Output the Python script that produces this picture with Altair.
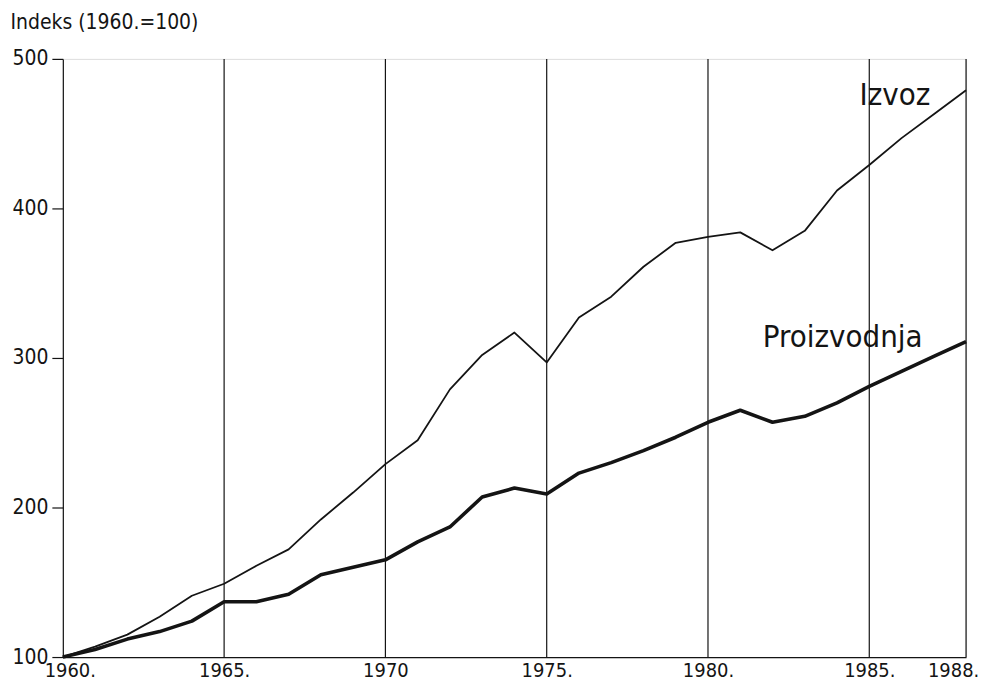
import altair as alt
import pandas as pd

years = list(range(1960, 1989))
izvoz = [100, 107, 115, 127, 141, 149, 161, 172, 192, 210, 229, 245, 279, 302, 317,
         297, 327, 341, 361, 377, 381, 384, 372, 385, 412, 429, 447, 463, 479]
proizvodnja = [100, 105, 112, 117, 124, 137, 137, 142, 155, 160, 165, 177, 187, 207, 213,
               209, 223, 230, 238, 247, 257, 265, 257, 261, 270, 281, 291, 301, 311]

tick_years = [1960, 1965, 1970, 1975, 1980, 1985, 1988]
tick_labels = ["1960.", "1965.", "1970", "1975.", "1980.", "1985.", "1988."]
grid_years = [1965, 1970, 1975, 1980, 1985, 1988]
y_ticks = [100, 200, 300, 400, 500]

label_names = ["Izvoz", "Proizvodnja"]
label_x = [1984.7, 1981.7]
label_y = [475, 313]

FONT = "'DejaVu Sans Condensed', 'DejaVu Sans', sans-serif"
INK = "#141414"

df = pd.DataFrame({
    "year": years * 2,
    "value": izvoz + proizvodnja,
    "series": ["Izvoz"] * len(years) + ["Proizvodnja"] * len(years),
})
grid_df = pd.DataFrame({"year": grid_years})
lab_df = pd.DataFrame({"name": label_names, "x": label_x, "y": label_y})

label_expr = " : ".join(
    [f"datum.value == {y} ? '{l}'" for y, l in zip(tick_years, tick_labels)] + ["''"]
)

xscale = alt.Scale(domain=[1960, 1988], nice=False, zero=False)
yscale = alt.Scale(domain=[100, 500], nice=False, zero=False)

base_x = alt.X("year:Q", scale=xscale,
               axis=alt.Axis(values=tick_years, labelExpr=label_expr, grid=False,
                             ticks=False, domainColor=INK, domainWidth=1.2,
                             labelFont=FONT, labelFontSize=20, labelColor=INK,
                             labelPadding=4, title=None, labelFlush=False,
                             labelOffset={"condition": [
                                 {"test": "datum.value == 1960", "value": 7},
                                 {"test": "datum.value == 1988", "value": -13}],
                                 "value": 0}))
base_y = alt.Y("value:Q", scale=yscale,
               axis=alt.Axis(values=y_ticks, grid=False, tickSize=11, tickColor=INK,
                             tickWidth=1.2, domainColor=INK, domainWidth=1.2,
                             labelFont=FONT, labelFontSize=21, labelColor=INK,
                             labelPadding=4,
                             title="Indeks (1960.=100)", titleAngle=0,
                             titleAlign="left", titleBaseline="middle",
                             titleX=-53, titleY=-36, titleFont=FONT,
                             titleFontSize=21, titleFontWeight="normal",
                             titleColor=INK))

grid = alt.Chart(grid_df).mark_rule(color=INK, strokeWidth=1.2).encode(
    x=alt.X("year:Q", scale=xscale),
    y=alt.value(0), y2=alt.value(600),
)

lines = alt.Chart(df).mark_line(color=INK, strokeJoin="round").encode(
    x=base_x,
    y=base_y,
    detail="series:N",
    strokeWidth=alt.StrokeWidth("series:N",
                                scale=alt.Scale(domain=label_names, range=[1.8, 3.6]),
                                legend=None),
)

labels = alt.Chart(lab_df).mark_text(font=FONT, fontSize=31, color=INK,
                                     align="left", baseline="middle").encode(
    x=alt.X("x:Q", scale=xscale),
    y=alt.Y("y:Q", scale=yscale),
    text="name:N",
)

chart = alt.layer(grid, lines, labels).properties(
    width=906, height=600,
    autosize=alt.AutoSizeParams(type="none"),
    padding={"left": 55, "top": 50, "right": 16, "bottom": 26},
).configure_view(stroke=None).configure(background="white")

chart.save("out.html", embed_options={"renderer": "svg", "actions": False})
